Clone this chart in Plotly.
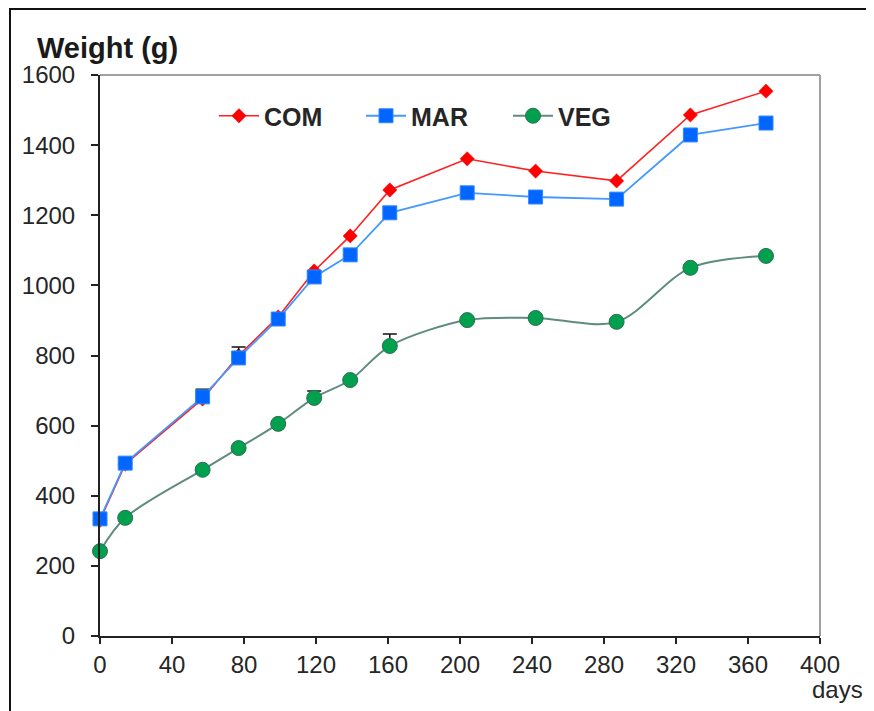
import plotly.graph_objects as go

days = [0, 14, 57, 77, 99, 119, 139, 161, 204, 242, 287, 328, 370]
com = [330, 490, 676, 800, 910, 1041, 1141, 1272, 1361, 1326, 1298, 1486, 1554]
mar = [334, 493, 682, 793, 904, 1024, 1087, 1207, 1264, 1252, 1246, 1429, 1463]
veg = [242, 337, 474, 536, 605, 679, 730, 827, 901, 907, 896, 1050, 1084]
mar_err = [None, None, 22, 31, None, None, None, None, None, None, None, None, None]
veg_err = [None, None, None, None, None, 20, None, 34, None, None, None, None, None]
x_ticks = [0, 40, 80, 120, 160, 200, 240, 280, 320, 360, 400]
y_ticks = [0, 200, 400, 600, 800, 1000, 1200, 1400, 1600]

OFF = 8  # page body margin
W, H = 874 - OFF, 711 - OFF
L, R, T, B = 100 - OFF, 54, 75 - OFF, 75
pw, ph = W - L - R, H - T - B

def px(x):  # screen px -> paper
    return (x - OFF - L) / pw

def py(y):
    return (H - B - (y - OFF)) / ph

fig = go.Figure()
fig.add_trace(go.Scatter(
    x=days, y=com, name="COM", mode="lines+markers",
    line=dict(color="#FF2020", width=1.6),
    marker=dict(symbol="diamond", size=11, color="#FF0000", line=dict(color="#FF0000", width=0.5)),
    cliponaxis=False,
))
fig.add_trace(go.Scatter(
    x=days, y=mar, name="MAR", mode="lines+markers",
    line=dict(color="#4499FF", width=1.8),
    marker=dict(symbol="square", size=14, color="#0066FF", line=dict(color="#3388FF", width=1)),
    error_y=dict(type="data", array=mar_err, symmetric=False, arrayminus=[0]*len(days),
                 color="#111111", thickness=1.5, width=7),
    cliponaxis=False,
))
fig.add_trace(go.Scatter(
    x=days, y=veg, name="VEG", mode="lines+markers",
    line=dict(color="#5E8C80", width=2, shape="spline", smoothing=0.9),
    marker=dict(symbol="circle", size=15, color="#00A04E", line=dict(color="#2E6E52", width=1)),
    error_y=dict(type="data", array=veg_err, symmetric=False, arrayminus=[0]*len(days),
                 color="#111111", thickness=1.5, width=7),
    cliponaxis=False,
))

font_family = "Liberation Sans, Arial, sans-serif"
fig.update_layout(
    width=W, height=H,
    margin=dict(l=L, r=R, t=T, b=B),
    paper_bgcolor="white", plot_bgcolor="white",
    font=dict(family=font_family, size=24, color="#262626"),
    showlegend=True,
    legend=dict(orientation="h", x=px(214), y=py(116), xanchor="left", yanchor="middle",
                font=dict(size=25, color="#262626", family=font_family, weight="bold"),
                bgcolor="rgba(0,0,0,0)", itemwidth=40, tracegroupgap=0,
                entrywidth=92, entrywidthmode="pixels"),
    xaxis=dict(range=[0, 400], tickvals=x_ticks, ticktext=[str(v) for v in x_ticks],
               showgrid=False, zeroline=False, showline=True, linecolor="#222222", linewidth=2,
               ticks="outside", ticklen=6, tickwidth=2, tickcolor="#222222",
               tickfont=dict(size=24, color="#262626")),
    yaxis=dict(range=[0, 1600], tickvals=y_ticks, ticktext=[str(v) for v in y_ticks],
               showgrid=False, zeroline=False, showline=True, linecolor="#222222", linewidth=2,
               ticks="outside", ticklen=7, tickwidth=2, tickcolor="#222222",
               tickfont=dict(size=24, color="#262626"), ticklabelstandoff=11),
    shapes=[
        dict(type="line", xref="paper", yref="paper", x0=0, x1=1, y0=1, y1=1,
             line=dict(color="#A0A0A0", width=2)),
        dict(type="line", xref="paper", yref="paper", x0=1, x1=1, y0=0, y1=1,
             line=dict(color="#A0A0A0", width=2)),
        dict(type="rect", xref="paper", yref="paper", x0=px(10), x1=px(880), y0=py(716), y1=py(9),
             line=dict(color="#111111", width=2)),
    ],
    annotations=[
        dict(text="<b>Weight (g)</b>", xref="paper", yref="paper", x=px(35), y=py(48),
             xanchor="left", yanchor="middle", showarrow=False,
             font=dict(size=29, color="#1A1A1A", family=font_family)),
        dict(text="days", xref="paper", yref="paper", x=px(865), y=py(689),
             xanchor="right", yanchor="middle", showarrow=False,
             font=dict(size=24, color="#262626", family=font_family)),
    ],
)

fig.write_html("out.html")
